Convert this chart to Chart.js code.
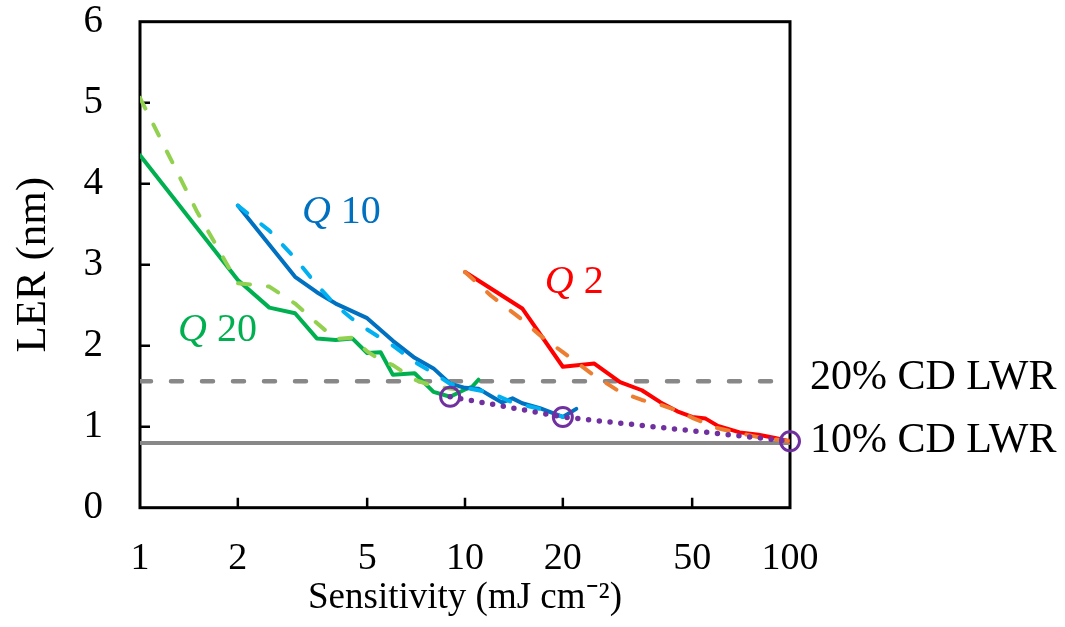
<!DOCTYPE html>
<html><head><meta charset="utf-8">
<script src="https://cdn.jsdelivr.net/npm/chart.js@4.4.1/dist/chart.umd.min.js"></script>
<style>html,body{margin:0;padding:0;background:#fff;}#wrap{width:1065px;height:627px;position:relative;}</style>
</head><body><div id="wrap"><canvas id="c"></canvas></div>
<script>
// ---- data ----
const xTicks = [1, 2, 5, 10, 20, 50, 100];
const yTicks = [0, 1, 2, 3, 4, 5, 6];

const q20X = [1, 2, 2.5, 3, 3.5, 4, 4.5, 5, 5.5, 6, 7, 8, 9, 10, 10.5, 11];
const q20Y = [4.35, 2.81, 2.47, 2.40, 2.09, 2.07, 2.09, 1.91, 1.92, 1.64, 1.66, 1.43, 1.37, 1.46, 1.49, 1.58];
const q20FitX = [1, 1.5, 2, 2.5, 3, 3.5, 4, 4.5, 5, 5.5, 6, 7, 8, 9, 9.5];
const q20FitY = [5.06, 3.65, 2.77, 2.73, 2.52, 2.28, 2.08, 2.10, 1.93, 1.82, 1.76, 1.58, 1.50, 1.47, 1.46];

const q10X = [2, 3, 3.5, 4, 5, 6, 7, 8, 9, 10, 11, 12, 13, 14, 15, 17, 20, 22];
const q10Y = [3.73, 2.85, 2.66, 2.52, 2.34, 2.06, 1.85, 1.72, 1.53, 1.48, 1.47, 1.38, 1.30, 1.35, 1.29, 1.23, 1.12, 1.22];
const q10FitX = [2, 2.5, 3, 3.5, 4, 4.5, 5, 6, 7, 8, 9, 10, 12, 14, 17, 20];
const q10FitY = [3.73, 3.42, 3.08, 2.75, 2.50, 2.33, 2.20, 2.00, 1.80, 1.66, 1.53, 1.48, 1.42, 1.30, 1.22, 1.12];

const q2X = [10, 15, 20, 25, 30, 35, 40, 45, 50, 55, 60, 70, 80, 90, 100];
const q2Y = [2.91, 2.46, 1.74, 1.78, 1.55, 1.45, 1.30, 1.19, 1.12, 1.10, 1.01, 0.93, 0.90, 0.86, 0.82];
const q2FitX = [10, 12, 15, 17, 20, 25, 30, 35, 40, 45, 50, 60, 70, 80, 100];
const q2FitY = [2.91, 2.62, 2.32, 2.13, 1.92, 1.63, 1.43, 1.33, 1.27, 1.20, 1.11, 0.98, 0.92, 0.87, 0.82];

const bestX = [9, 20, 100];
const bestY = [1.37, 1.12, 0.82];

const lwr20 = 1.56;
const lwr10 = 0.80;

const qNames = ['10', '2', '20'];
const lwrNames = ['20% CD LWR', '10% CD LWR'];

// ---- chart ----
const FONT = '"Liberation Serif", "Times New Roman", serif';
function pts(xs, ys) { return xs.map((x, i) => ({ x: x, y: ys[i] })); }
function line(xs, ys, color, extra) {
  return Object.assign({
    type: 'line', data: pts(xs, ys), borderColor: color, backgroundColor: color,
    borderWidth: 4, pointRadius: 0, pointHoverRadius: 0, fill: false, tension: 0,
    borderJoinStyle: 'round', borderCapStyle: 'round'
  }, extra || {});
}
const xMin = xTicks[0], xMax = xTicks[xTicks.length - 1];

const datasets = [
  line([xMin, xMax], [lwr10, lwr10], '#888888', { borderWidth: 4, borderCapStyle: 'butt', order: 20 }),
  line([xMin, xMax], [lwr20, lwr20], '#888888', { borderWidth: 4.5, borderDash: [11, 20], order: 19 }),
  line(q20X, q20Y, '#00B050', { order: 10 }),
  line(q10X, q10Y, '#0070C0', { order: 9 }),
  line(q2X, q2Y, '#FF0000', { order: 8 }),
  line(q20FitX, q20FitY, '#92D050', { borderDash: [12, 18], order: 5 }),
  line(q10FitX, q10FitY, '#00B0F0', { borderDash: [12, 18], order: 4 }),
  line(q2FitX, q2FitY, '#ED7D31', { borderDash: [12, 18], order: 3 }),
  line(bestX, bestY, '#7030A0', {
    borderWidth: 5.5, borderDash: [0, 10.8], borderCapStyle: 'round', order: 1, clip: false,
    pointRadius: 9.5, pointBorderWidth: 3, pointBorderColor: '#7030A0',
    pointBackgroundColor: 'rgba(0,0,0,0)'
  })
];

const decor = {
  id: 'decor',
  beforeDatasetsDraw(chart) {
    const { ctx, chartArea: a, scales: { x, y } } = chart;
    ctx.save();
    ctx.strokeStyle = '#000';
    ctx.lineWidth = 2.5;
    ctx.beginPath();
    yTicks.slice(1, -1).forEach(v => {
      const py = y.getPixelForValue(v);
      ctx.moveTo(a.left, py); ctx.lineTo(a.left + 10, py);
    });
    xTicks.slice(1, -1).forEach(v => {
      const px = x.getPixelForValue(v);
      ctx.moveTo(px, a.bottom); ctx.lineTo(px, a.bottom - 10);
    });
    ctx.stroke();
    ctx.lineWidth = 3;
    ctx.strokeRect(a.left, a.top, a.right - a.left, a.bottom - a.top);
    ctx.restore();
  },
  afterDatasetsDraw(chart) {
    const { ctx, chartArea: a, scales: { x, y } } = chart;
    ctx.save();
    ctx.textBaseline = 'alphabetic';
    ctx.textAlign = 'left';
    const qLab = [
      { t: qNames[0], vx: 3.15, vy: 3.51, c: '#0070C0' },
      { t: qNames[1], vx: 17.6, vy: 2.65, c: '#FF0000' },
      { t: qNames[2], vx: 1.31, vy: 2.06, c: '#00B050' }
    ];
    qLab.forEach(l => {
      const px = x.getPixelForValue(l.vx), py = y.getPixelForValue(l.vy);
      ctx.fillStyle = l.c;
      ctx.font = 'italic 40px ' + FONT;
      ctx.fillText('Q', px, py);
      const w = ctx.measureText('Q').width;
      ctx.font = '40px ' + FONT;
      ctx.fillText(' ' + l.t, px + w, py);
    });
    ctx.fillStyle = '#000';
    ctx.font = '42px ' + FONT;
    ctx.textBaseline = 'middle';
    ctx.fillText(lwrNames[0], a.right + 20, y.getPixelForValue(lwr20) - 3);
    ctx.fillText(lwrNames[1], a.right + 20, y.getPixelForValue(lwr10) - 2);
    ctx.restore();
  }
};

new Chart(document.getElementById('c'), {
  type: 'line',
  data: { datasets: datasets },
  options: {
    responsive: true, maintainAspectRatio: false, animation: false,
    layout: { padding: { top: 21.7, right: 275, left: 0, bottom: 0 } },
    plugins: { legend: { display: false }, tooltip: { enabled: false } },
    scales: {
      x: {
        type: 'logarithmic', min: xMin, max: xMax,
        grid: { display: false, drawTicks: true, tickLength: 29 }, border: { display: false },
        afterBuildTicks: s => { s.ticks = xTicks.map(v => ({ value: v })); },
        afterFit: s => { s.height = 119.3; },
        ticks: { color: '#000', padding: 0, maxRotation: 0, autoSkip: false,
          font: { family: FONT, size: 38 }, callback: v => String(v) },
        title: { display: true, text: 'Sensitivity (mJ cm\u207B\u00B2)', color: '#000',
          font: { family: FONT, size: 37 }, padding: { top: 0, bottom: 7 } }
      },
      y: {
        min: yTicks[0], max: yTicks[yTicks.length - 1],
        grid: { display: false, drawTicks: true, tickLength: 37 }, border: { display: false },
        afterBuildTicks: s => { s.ticks = yTicks.map(v => ({ value: v })); },
        afterFit: s => { s.width = 140; },
        ticks: { color: '#000', padding: 0, font: { family: FONT, size: 39, lineHeight: 1.1 } },
        title: { display: true, text: 'LER (nm)', color: '#000',
          font: { family: FONT, size: 43 }, padding: { top: 8, bottom: 0 } }
      }
    }
  },
  plugins: [decor]
});
</script></body></html>
